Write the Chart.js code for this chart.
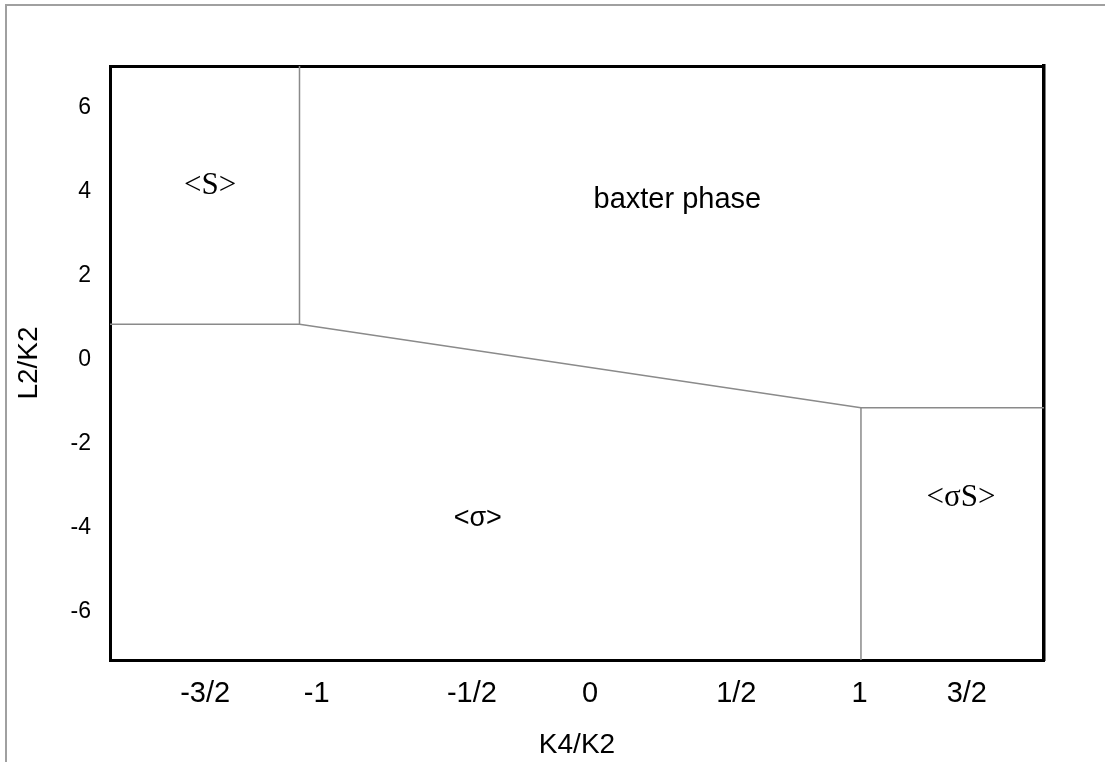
<!DOCTYPE html>
<html>
<head>
<meta charset="utf-8">
<script src="https://cdn.jsdelivr.net/npm/chart.js@4.4.1/dist/chart.umd.min.js"></script>
<style>
  html, body { margin: 0; padding: 0; background: #fff; overflow: hidden; }
  #wrap { position: relative; width: 1105px; height: 762px; overflow: hidden; }
  #frame { position: absolute; left: 5px; top: 4px; right: -10px; bottom: -10px;
           border-left: 2px solid #a0a0a0; border-top: 2px solid #a0a0a0; }
  canvas { position: absolute; left: 0; top: 0; }
</style>
</head>
<body>
<div id="wrap">
  <div id="frame"></div>
  <canvas id="myChart" width="1105" height="762"></canvas>
</div>
<script>
// axis ranges
const xMin = -1.675, xMax = 1.652;
const yMin = -7.15, yMax = 7;

// tick labels (x labels are placed by hand in the original)
const xTickPos = [-1.336, -0.939, -0.386, 0.035, 0.556, 0.995, 1.377];
const xTickLabels = ["-3/2", "-1", "-1/2", "0", "1/2", "1", "3/2"];
const yTickPos = [-6, -4, -2, 0, 2, 4, 6];

// phase boundaries
const boundaryX = [-1.675, -1, 1, 1.652];
const boundaryY = [0.85, 0.85, -1.14, -1.14];
const wallLeftX = [-1, -1];
const wallLeftY = [7, 0.85];
const wallRightX = [1, 1];
const wallRightY = [-1.14, -7.15];

// phase names
const regionNames = ["<S>", "baxter phase", "<\u03C3>", "<\u03C3S>"];
const regionX = [-1.318, 0.346, -0.365, 1.356];
const regionY = [4.14, 3.81, -3.79, -3.29];

function toPoints(xs, ys) {
  return xs.map((v, i) => ({ x: v, y: ys[i] }));
}

function lineSet(xs, ys) {
  return {
    data: toPoints(xs, ys),
    showLine: true,
    borderColor: "#8a8a8a",
    borderWidth: 1.5,
    pointRadius: 0,
    tension: 0
  };
}

// region labels drawn through the scales
const regionLabelPlugin = {
  id: "regionLabels",
  afterDatasetsDraw(chart) {
    const ctx = chart.ctx;
    const fonts = ["31px 'Liberation Serif'", "29px 'Liberation Sans'", "27px 'Liberation Sans'", "31px 'Liberation Serif'"];
    ctx.save();
    ctx.fillStyle = "#000";
    ctx.textAlign = "center";
    ctx.textBaseline = "middle";
    regionNames.forEach((name, i) => {
      ctx.font = fonts[i];
      ctx.fillText(name, chart.scales.x.getPixelForValue(regionX[i]), chart.scales.y.getPixelForValue(regionY[i]));
    });
    ctx.restore();
  }
};

const axisBorder = { display: true, color: "#000", width: 3 };

new Chart(document.getElementById("myChart").getContext("2d"), {
  type: "scatter",
  data: {
    datasets: [
      lineSet(boundaryX, boundaryY),
      lineSet(wallLeftX, wallLeftY),
      lineSet(wallRightX, wallRightY)
    ]
  },
  options: {
    responsive: false,
    animation: false,
    layout: { padding: { left: 0, top: 66, right: 61, bottom: 0 } },
    plugins: { legend: { display: false }, tooltip: { enabled: false } },
    scales: {
      x: {
        type: "linear",
        position: "bottom",
        min: xMin,
        max: xMax,
        afterFit: s => { s.height = 102; },
        afterBuildTicks: s => { s.ticks = xTickPos.map(v => ({ value: v })); },
        ticks: {
          callback: (v, i) => xTickLabels[i],
          color: "#000",
          font: { family: "'Liberation Sans'", size: 29 },
          padding: 9,
          autoSkip: false,
          maxRotation: 0
        },
        grid: { display: false },
        border: axisBorder,
        title: {
          display: true,
          text: "K4/K2",
          color: "#000",
          font: { family: "'Liberation Sans'", size: 28 },
          padding: { top: 0, bottom: 0 }
        }
      },
      y: {
        type: "linear",
        position: "left",
        min: yMin,
        max: yMax,
        afterFit: s => { s.width = 110; },
        afterBuildTicks: s => { s.ticks = yTickPos.map(v => ({ value: v })); },
        ticks: {
          color: "#000",
          font: { family: "'Liberation Sans'", size: 23 },
          padding: 11
        },
        grid: { display: false },
        border: axisBorder,
        title: {
          display: true,
          text: "L2/K2",
          color: "#000",
          font: { family: "'Liberation Sans'", size: 28 },
          padding: { top: 12, bottom: 0 }
        }
      },
      x2: {
        type: "linear",
        position: "top",
        min: xMin,
        max: xMax,
        afterFit: s => { s.height = 0; },
        ticks: { display: false },
        grid: { display: false },
        border: axisBorder
      },
      y2: {
        type: "linear",
        position: "right",
        min: yMin,
        max: yMax,
        afterFit: s => { s.width = 0; },
        ticks: { display: false },
        grid: { display: false },
        border: { display: true, color: "#000", width: 3.5 }
      }
    }
  },
  plugins: [regionLabelPlugin]
});
</script>
</body>
</html>
